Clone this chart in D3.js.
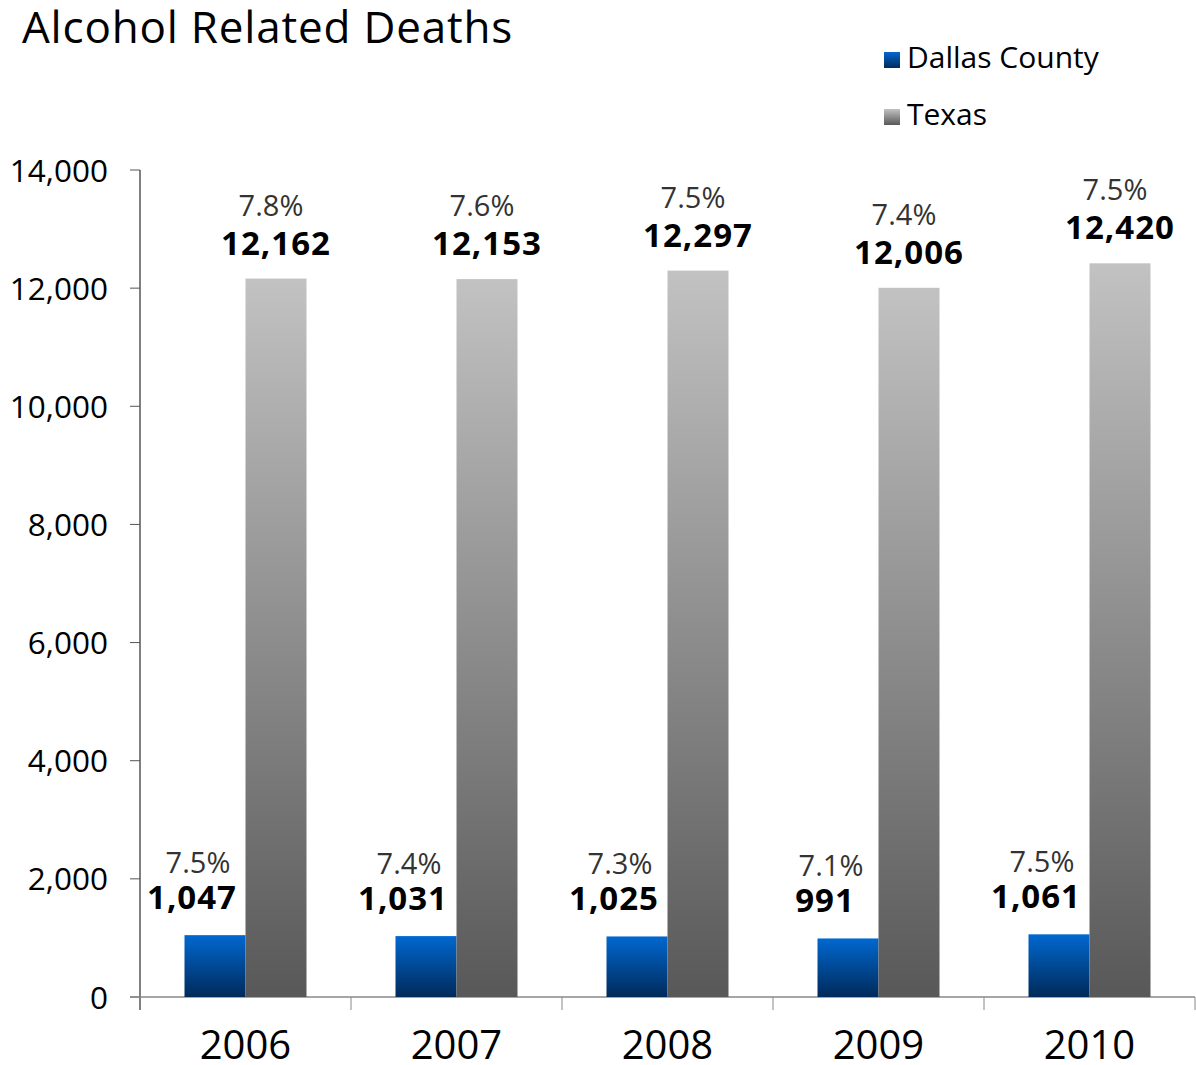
<!DOCTYPE html>
<html><head><meta charset="utf-8">
<script src="https://cdn.jsdelivr.net/npm/d3@7"></script>
<style>body{margin:0;background:#fff;overflow:hidden;} text{font-family:"Open Sans",sans-serif;}</style>
</head><body>
<svg id="c" width="1196" height="1065"></svg>
<script>
const years = ["2006","2007","2008","2009","2010"];
const dallas = [1047,1031,1025,991,1061];
const texas = [12162,12153,12297,12006,12420];
const dallasPct = ["7.5%","7.4%","7.3%","7.1%","7.5%"];
const texasPct = ["7.8%","7.6%","7.5%","7.4%","7.5%"];
const yTicks = [0,2000,4000,6000,8000,10000,12000,14000];
const seriesNames = ["Dallas County","Texas"];

const svg = d3.select("#c");
const L = 140, R = 1195, T = 170, B = 997;
const x = d3.scaleBand().domain(years).range([L, R]);
const y = d3.scaleLinear().domain([0,14000]).range([B, T]);
const barW = 61;
const fmt = d3.format(",");

const defs = svg.append("defs");
const g1 = defs.append("linearGradient").attr("id","gBlue").attr("x1",0).attr("y1",0).attr("x2",0).attr("y2",1);
g1.append("stop").attr("offset","0%").attr("stop-color","#0068d0");
g1.append("stop").attr("offset","100%").attr("stop-color","#002a5a");
const g2 = defs.append("linearGradient").attr("id","gGray").attr("x1",0).attr("y1",0).attr("x2",0).attr("y2",1);
g2.append("stop").attr("offset","0%").attr("stop-color","#c2c2c2");
g2.append("stop").attr("offset","100%").attr("stop-color","#585858");

// title
svg.append("text").attr("x",22).attr("y",43).attr("font-size",44).attr("letter-spacing",0.8).attr("fill","#000").text("Alcohol Related Deaths");

// y axis
svg.append("line").attr("x1",L).attr("x2",L).attr("y1",T).attr("y2",B+13).attr("stroke","#000").attr("stroke-width",1);
svg.selectAll(".yt").data(yTicks).enter().append("line")
  .attr("x1",L-10).attr("x2",L).attr("y1",d=>y(d)).attr("y2",d=>y(d)).attr("stroke","#555");
svg.selectAll(".yl").data(yTicks).enter().append("text")
  .attr("x",108).attr("y",d=>y(d)+11.5).attr("text-anchor","end").attr("font-size",31.5).attr("fill","#000")
  .text(d=>fmt(d));

// baseline
svg.append("line").attr("x1",L-10).attr("x2",R).attr("y1",B).attr("y2",B).attr("stroke","#888").attr("stroke-width",1.5);
// category separators
svg.selectAll(".ct").data(years.slice(1).concat(["end"])).enter().append("line")
  .attr("x1",(d,i)=>i<4?x(d):R).attr("x2",(d,i)=>i<4?x(d):R)
  .attr("y1",B).attr("y2",B+13).attr("stroke","#888");

// year labels
svg.selectAll(".xl").data(years).enter().append("text")
  .attr("x",d=>x(d)+x.bandwidth()/2).attr("y",1059).attr("text-anchor","middle").attr("font-size",40).attr("fill","#000")
  .text(d=>d);

// bars
const cx = d=>x(d)+x.bandwidth()/2;
svg.selectAll(".bd").data(years).enter().append("rect")
  .attr("x",d=>cx(d)-barW).attr("width",barW)
  .attr("y",(d,i)=>y(dallas[i])).attr("height",(d,i)=>B-y(dallas[i])).attr("fill","url(#gBlue)");
svg.selectAll(".bt").data(years).enter().append("rect")
  .attr("x",d=>cx(d)).attr("width",barW)
  .attr("y",(d,i)=>y(texas[i])).attr("height",(d,i)=>B-y(texas[i])).attr("fill","url(#gGray)");

// labels
svg.selectAll(".dv").data(years).enter().append("text")
  .attr("x",d=>cx(d)-barW/2-23).attr("y",(d,i)=>y(dallas[i])-26).attr("text-anchor","middle")
  .attr("font-size",33).attr("font-weight","bold").attr("letter-spacing",1).attr("fill","#000").text((d,i)=>fmt(dallas[i]));
svg.selectAll(".dp").data(years).enter().append("text")
  .attr("x",d=>cx(d)-barW/2-17).attr("y",(d,i)=>y(dallas[i])-62).attr("text-anchor","middle")
  .attr("font-size",29).attr("fill","#333").text((d,i)=>dallasPct[i]);
svg.selectAll(".tv").data(years).enter().append("text")
  .attr("x",d=>cx(d)+barW/2).attr("y",(d,i)=>y(texas[i])-24).attr("text-anchor","middle")
  .attr("font-size",33).attr("font-weight","bold").attr("letter-spacing",1).attr("fill","#000").text((d,i)=>fmt(texas[i]));
svg.selectAll(".tp").data(years).enter().append("text")
  .attr("x",d=>cx(d)+barW/2-5).attr("y",(d,i)=>y(texas[i])-63).attr("text-anchor","middle")
  .attr("font-size",29).attr("fill","#333").text((d,i)=>texasPct[i]);

// legend
const lg = svg.selectAll(".lg").data(seriesNames).enter().append("g")
  .attr("transform",(d,i)=>`translate(884,${52+i*57})`);
lg.append("rect").attr("width",16).attr("height",16).attr("fill",(d,i)=>i===0?"url(#gBlue)":"url(#gGray)");
lg.append("text").attr("x",23).attr("y",16).attr("font-size",30).attr("fill","#000").text(d=>d);
</script>
</body></html>
